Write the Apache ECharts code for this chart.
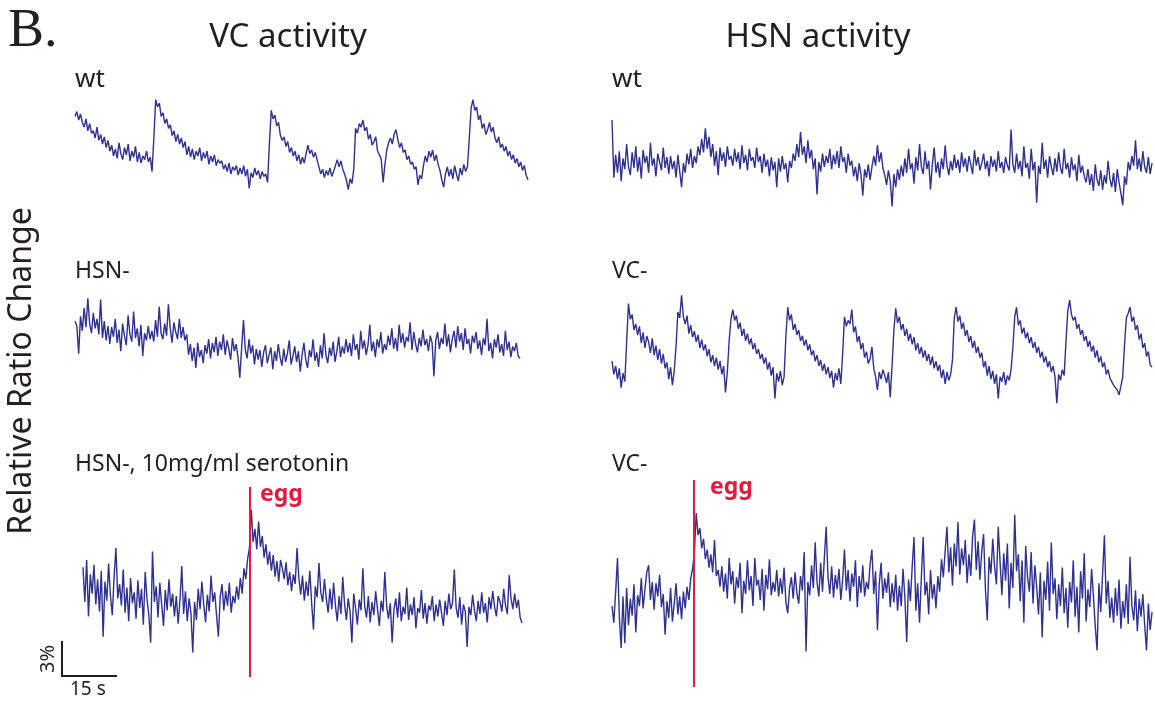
<!DOCTYPE html>
<html><head><meta charset="utf-8">
<script src="https://cdn.jsdelivr.net/npm/echarts@6/dist/echarts.min.js"></script>
<style>html,body{margin:0;padding:0;background:#fff}#c{width:1155px;height:702px}</style>
</head><body><div id="c"></div>
<script>
// sampling interval of every trace (seconds)
const dt = 0.5;
// Relative ratio change (%) – VC activity, wild type
const vcWt = [6.8,7.2,6.5,7.0,6.3,5.9,6.6,5.6,6.2,5.4,
5.6,5.0,5.9,4.8,5.3,4.5,5.1,4.2,4.8,3.9,
4.4,3.5,4.1,3.3,4.6,3.7,3.2,4.2,3.6,4.5,
3.1,3.9,3.4,4.3,3.0,3.8,2.9,3.5,3.2,3.9,
3.0,3.4,2.2,5.0,8.2,7.6,7.9,6.8,7.1,6.2,
6.6,5.8,6.1,5.2,5.6,4.7,5.3,4.5,5.0,4.2,
4.7,3.6,4.3,3.4,4.1,3.2,3.9,3.5,4.2,3.1,
3.8,3.3,3.9,2.8,3.5,3.0,3.6,2.7,3.2,2.9,
3.1,2.4,2.8,2.2,2.9,2.0,2.6,2.3,2.7,1.9,
2.5,2.0,2.7,1.8,2.4,0.8,2.1,1.7,2.5,1.9,
2.3,1.6,2.2,1.8,2.0,1.3,4.5,7.3,6.6,6.9,
6.0,6.3,5.2,4.8,5.1,4.3,4.7,3.8,4.2,3.5,
3.9,3.1,3.6,2.8,3.4,2.9,3.7,4.4,3.7,4.0,3.4,3.8,3.2,
2.6,2.0,2.4,1.7,2.3,1.9,2.5,1.8,2.2,
2.7,3.2,2.6,3.1,2.4,2.0,1.5,0.7,1.6,1.2,2.4,
5.8,5.4,6.2,5.9,6.5,5.6,5.9,
4.9,5.3,4.4,4.7,5.1,3.9,3.6,3.2,
1.3,2.8,4.0,4.6,5.0,4.5,5.3,5.7,4.9,
4.2,4.6,3.8,4.0,3.2,3.5,2.8,3.0,2.4,2.6,1.1,1.9,1.6,
2.7,3.5,3.0,3.9,3.4,4.0,3.1,3.6,2.8,
2.3,1.5,0.9,2.0,2.6,1.8,2.4,1.6,2.7,2.0,1.4,2.5,1.9,2.8,2.2,
2.6,5.0,7.5,8.2,7.3,7.6,
6.5,6.9,5.8,6.2,5.3,5.7,6.3,5.5,5.9,
5.0,4.6,5.1,4.2,4.5,3.9,4.3,3.5,3.9,3.2,3.6,2.9,3.3,2.6,3.0,2.3,2.7,1.9,1.5];
// HSN activity, wild type
const hsnWt = [8.0,3.2,5.1,3.6,5.4,2.9,4.8,3.9,6.0,4.1,
3.4,5.3,4.0,5.8,3.7,4.9,3.1,5.5,4.4,5.0,
3.6,6.1,4.2,4.8,3.3,5.2,4.5,3.8,5.7,4.0,
4.9,3.5,5.0,3.9,4.6,3.2,5.1,3.7,2.4,4.4,
3.6,5.2,4.3,5.6,4.0,5.0,4.4,5.8,5.1,6.4,
5.3,7.3,5.6,6.6,4.9,6.0,4.2,5.4,3.4,5.7,
4.6,5.3,4.1,5.8,4.7,5.0,4.2,5.6,4.5,5.3,
3.9,5.9,4.4,5.1,3.8,5.6,4.6,4.9,4.0,5.7,
4.5,5.0,3.6,5.2,4.1,4.7,3.3,4.9,3.8,4.5,
2.4,4.8,3.7,5.0,3.9,4.4,2.8,4.6,4.0,5.2,
4.6,6.0,4.9,7.0,5.1,5.8,4.4,6.3,4.8,5.5,
3.9,4.8,1.8,4.5,3.7,5.2,4.1,5.0,4.4,5.6,
3.9,5.1,4.3,5.4,4.0,5.8,4.5,4.9,3.6,5.2,
4.2,4.6,3.3,4.1,2.9,4.4,3.5,1.7,3.9,3.2,
4.3,3.0,4.1,5.0,4.2,5.9,4.5,5.3,4.0,3.4,
2.6,3.8,2.9,0.8,3.5,2.4,3.9,3.0,4.2,3.3,
4.8,3.6,5.6,3.9,4.4,2.7,4.9,3.8,6.0,4.1,
3.5,5.4,3.9,4.6,2.2,4.3,5.7,3.6,4.5,3.2,
4.8,3.9,5.9,4.2,3.4,4.6,3.8,5.1,4.0,4.7,
3.6,5.3,4.1,4.8,3.7,5.0,4.3,3.5,5.5,4.2,
4.9,3.8,4.4,5.2,3.9,4.6,3.3,5.0,4.1,4.7,
3.7,5.4,4.0,4.5,3.6,4.9,4.2,3.8,7.2,4.3,
3.6,5.2,3.9,4.6,3.3,5.8,4.0,4.4,3.1,5.6,
3.8,4.5,1.1,4.2,3.5,6.1,3.9,4.7,3.2,5.0,
4.1,3.4,4.8,3.7,5.3,4.0,3.5,5.6,3.9,4.4,
3.2,4.9,3.8,4.3,2.9,5.1,3.6,4.2,3.3,2.8,
3.9,2.6,3.5,2.1,4.3,3.0,2.5,3.8,2.2,3.4,
2.7,4.6,3.1,2.4,3.6,2.0,3.9,2.8,1.9,0.9,
3.3,2.6,4.5,3.8,5.0,4.2,6.3,3.9,4.8,3.7,
5.4,4.1,3.6,4.9,3.5,4.4];
// VC activity, HSN-
const vcHsnMinus = [5.4,5.0,2.7,5.8,4.6,6.5,4.9,7.3,5.2,4.4,
6.1,4.8,5.6,4.3,7.2,4.0,5.4,3.8,5.0,3.5,
4.9,4.1,5.6,3.6,4.7,2.9,5.2,4.2,3.4,5.9,
4.3,3.7,6.2,4.0,4.8,3.3,5.1,2.5,4.4,3.8,
5.0,3.9,4.6,3.7,5.5,4.1,6.6,4.4,3.9,5.2,
4.2,6.8,4.8,3.6,5.3,4.5,3.9,5.6,4.0,4.9,
3.8,4.3,2.6,3.5,2.1,3.2,1.5,3.6,2.4,3.0,
1.9,3.4,2.7,3.9,2.3,3.6,2.8,4.1,2.5,3.7,
3.0,4.3,2.6,3.8,3.1,2.2,4.0,2.9,3.5,2.4,
0.7,3.2,5.5,3.0,2.3,3.9,2.7,3.4,1.8,3.1,
2.2,3.0,1.6,2.8,3.4,1.9,2.6,3.2,1.4,2.9,
2.1,3.5,2.4,1.7,3.1,2.0,2.7,3.8,1.8,2.5,
3.3,2.0,2.9,1.2,2.6,3.6,2.2,1.5,3.0,2.4,
3.9,2.1,2.8,1.6,3.4,2.3,4.4,2.6,1.9,3.2,
2.5,3.7,2.0,2.9,4.1,2.4,3.3,2.7,3.9,2.8,
3.6,2.5,4.3,3.0,3.5,2.2,4.6,3.1,3.8,2.6,
3.4,5.1,2.9,3.7,2.4,3.9,3.2,4.5,2.7,3.5,
3.0,4.2,3.4,4.8,3.1,4.0,2.9,5.1,3.6,4.4,
3.2,4.1,3.7,5.3,3.0,4.5,3.5,2.8,4.0,3.3,
4.7,3.4,3.9,2.9,4.2,3.6,0.8,3.8,4.5,3.1,
4.0,3.5,5.2,3.3,4.3,2.8,3.9,4.6,3.2,5.0,
3.7,4.4,3.0,4.8,3.5,3.9,2.7,4.2,3.6,4.5,
3.1,3.8,2.6,4.0,3.4,5.6,2.9,3.6,2.3,3.9,
3.2,4.3,2.8,3.5,2.5,4.6,3.0,3.7,2.4,3.3,
2.9,3.6,2.5,2.3];
// HSN activity, VC-
const hsnVcMinus = [3.9,2.8,3.5,2.4,3.3,1.7,2.9,2.2,5.5,8.7,
7.4,7.8,6.5,7.0,6.1,6.8,5.4,6.3,5.0,6.0,
5.5,4.6,5.8,4.4,5.2,4.0,4.9,3.7,4.5,3.3,
3.8,2.4,3.4,1.9,3.1,5.2,8.0,7.5,9.4,7.6,
7.0,7.7,6.2,6.9,5.9,6.4,5.5,6.1,5.0,5.7,
4.8,5.3,4.3,4.9,3.8,4.4,3.5,4.2,3.2,3.9,
2.8,3.5,1.3,3.0,5.6,7.4,8.2,7.3,7.7,6.6,
7.1,6.0,6.6,5.6,6.2,5.3,5.8,4.9,5.4,4.5,
4.9,4.1,4.5,3.7,4.2,3.2,3.8,2.7,3.4,0.8,
2.9,2.2,3.1,1.9,2.6,6.0,8.4,7.3,7.8,6.5,
7.0,6.1,6.5,5.6,6.0,5.2,5.7,4.8,5.3,4.4,
4.8,3.9,4.4,3.5,4.0,3.1,3.7,2.8,3.4,2.5,
3.1,1.7,2.9,2.3,3.3,2.0,4.5,7.6,6.8,7.3,
7.0,8.2,6.3,6.8,5.5,6.0,4.9,5.4,4.2,4.7,
3.7,4.1,5.1,3.3,2.6,1.5,3.0,2.4,3.2,2.7,
2.1,3.0,0.9,3.5,6.5,8.3,7.1,7.6,6.5,7.0,
6.0,6.6,5.6,6.2,5.3,5.9,4.8,5.4,4.5,5.1,
4.2,4.8,3.9,4.5,3.6,4.3,3.3,3.9,3.1,3.6,
2.5,3.2,2.0,3.0,2.3,2.8,4.0,7.5,8.4,7.2,
7.7,6.6,7.1,6.0,6.5,5.5,6.0,5.0,5.6,4.6,
5.1,4.2,4.6,3.4,3.9,2.7,3.5,2.4,3.1,2.0,
2.8,0.8,2.6,2.2,3.0,1.9,2.7,2.3,3.2,5.0,
7.6,8.4,6.9,7.3,6.2,6.7,5.8,6.3,5.4,5.9,
5.0,5.5,4.6,5.1,4.2,4.7,3.8,4.3,3.4,3.9,
3.0,3.5,2.6,0.4,2.8,2.3,3.2,2.7,5.5,8.1,
9.0,7.8,7.3,7.6,6.6,7.0,6.1,6.5,5.6,6.0,
5.1,5.6,4.7,5.2,4.2,4.8,3.8,4.3,3.4,3.8,
2.8,3.2,2.5,2.2,1.9,1.7,1.5,1.1,1.8,2.6,
5.3,7.5,7.9,8.4,7.2,7.6,6.5,6.9,5.7,6.2,
5.0,5.4,4.3,4.7,3.6,3.4];
// VC activity, HSN-, 10 mg/ml serotonin
const vcSerotonin = [8.4,5.5,9.0,4.3,7.8,6.2,8.6,5.3,7.4,4.7,
8.1,2.6,7.2,5.6,8.7,6.0,4.4,7.6,10.0,5.8,
7.0,5.2,8.2,4.6,6.7,3.9,7.5,5.4,6.3,4.1,
7.3,5.0,6.6,3.6,8.0,5.7,4.4,2.1,9.7,5.5,
6.8,4.2,7.1,5.3,3.5,6.5,4.8,7.4,5.1,6.2,
4.3,6.0,3.7,5.6,8.5,4.5,6.4,3.9,5.8,4.6,
1.3,5.5,4.0,6.6,4.9,7.2,5.3,3.8,6.1,4.7,
7.7,5.5,6.3,4.4,2.6,5.9,7.0,4.8,6.4,5.2,
7.1,4.6,6.0,5.4,6.8,5.7,7.5,6.2,8.3,7.4,
9.1,10.0,13.2,10.5,11.6,9.9,12.2,10.1,11.0,9.2,
10.3,8.6,9.7,8.1,9.4,7.6,8.9,7.2,9.0,8.3,
7.4,8.8,6.9,8.0,6.4,7.8,7.0,10.0,7.5,6.1,
7.7,5.6,7.2,6.0,8.1,5.4,3.2,6.8,5.9,8.75,
6.3,5.5,7.4,5.8,4.6,6.6,4.9,7.1,5.2,3.9,
6.0,4.5,7.6,5.3,4.0,5.8,4.7,2.1,6.2,5.0,
3.6,5.7,4.8,8.3,5.1,4.2,6.0,3.8,5.5,4.4,
6.4,4.9,3.5,5.6,4.7,8.0,5.2,4.1,5.4,2.1,
4.9,5.8,4.2,6.3,3.9,5.1,4.5,6.7,4.0,5.3,
4.4,5.9,3.3,5.0,4.6,6.5,4.1,5.4,3.7,5.2,
4.8,6.0,3.9,5.3,4.3,5.7,4.6,3.5,5.6,4.4,
6.2,4.9,5.4,8.2,5.0,4.2,5.9,3.6,5.3,4.7,
1.75,5.1,4.4,6.1,4.8,3.9,5.6,4.5,6.3,4.6,
5.4,3.8,5.9,4.9,6.4,5.1,4.3,6.0,5.5,4.7,
6.6,5.2,4.5,7.75,5.8,4.9,6.2,5.0,5.7,4.2,
3.75];
// HSN activity, VC-
const hsnVcMinus2 = [5.0,3.6,6.2,9.0,4.1,1.5,5.8,1.9,6.5,3.4,
5.6,4.2,6.8,2.8,5.9,5.0,7.3,4.8,6.4,7.8,
8.4,5.5,7.0,4.7,6.9,5.8,7.6,4.9,6.0,2.6,
5.4,4.0,6.5,3.7,5.2,6.9,4.3,5.8,3.9,6.2,
4.8,6.6,5.5,7.3,8.1,9.4,12.75,10.9,11.5,9.8,
10.6,8.9,9.7,8.2,9.3,7.8,10.5,7.5,8.0,6.6,
8.3,6.2,7.7,5.6,9.0,6.8,7.9,5.2,7.4,6.5,
8.6,4.4,7.1,6.0,8.8,6.3,7.5,5.0,9.0,6.7,
7.2,5.5,8.1,4.6,7.6,6.4,8.9,5.9,7.0,6.2,
8.0,5.8,7.3,6.0,8.2,5.3,4.4,6.5,7.4,5.6,
7.8,6.1,5.2,7.5,6.3,9.5,1.2,7.0,5.9,8.4,
6.5,10.3,7.0,5.8,8.6,6.2,9.0,11.6,7.4,6.0,
8.3,5.7,7.6,6.4,8.1,5.5,7.2,9.7,6.3,8.0,
5.4,7.7,6.6,8.8,4.9,7.5,6.1,8.4,5.8,7.0,
6.4,8.5,9.7,6.0,7.9,3.0,6.8,8.6,5.6,7.3,
6.1,7.8,4.9,6.9,5.3,7.6,4.6,6.7,5.0,8.1,
5.7,2.0,7.2,5.4,8.3,10.75,4.6,6.9,3.6,7.4,
10.75,5.9,7.0,4.3,8.0,5.6,6.8,4.8,7.5,6.2,
8.9,7.4,9.6,11.6,7.8,9.9,6.7,10.2,8.3,12.0,
7.6,9.8,8.4,10.5,6.9,9.3,7.5,10.8,12.2,8.0,
10.4,7.2,9.6,11.0,6.4,3.8,9.1,7.7,10.6,8.3,
6.8,11.6,8.7,5.9,9.4,7.1,10.2,4.8,8.6,6.5,
12.6,7.9,9.3,5.4,8.8,3.6,10.0,7.4,6.2,9.5,
5.2,8.4,6.6,4.3,7.8,2.4,7.1,5.5,8.7,4.6,
10.3,6.0,7.3,3.9,6.8,5.0,8.2,4.4,6.5,3.2,
7.0,5.3,8.8,4.1,6.6,2.8,7.9,5.6,9.4,3.7,
6.4,4.9,8.1,5.8,3.3,1.3,6.9,4.5,7.6,10.9,
5.2,7.1,4.0,5.7,3.6,6.5,4.2,7.2,3.1,5.4,
4.0,6.8,3.5,9.1,5.0,3.8,6.3,2.9,5.6,4.1,
6.0,3.4,1.3,5.2,3.0,4.5];
// egg-laying event times (s)
const eggTimeVC = 45.6;
const eggTimeHSN = 22.4;
const panelLabels = ['wt','wt','HSN-','VC-','HSN-, 10mg/ml serotonin','VC-'];
const columnTitles = ['VC activity','HSN activity'];
const scaleBar = {seconds: 15, percent: 3};

const traceColor = '#2e3192';
const eggColor = '#e8193c';
const font = 'Noto Sans, Open Sans, sans-serif';

const panels = [
  {data: vcWt,        left: 75,  top: 90,  width: 453, height: 108, ymin: 0,     ymax: 9},
  {data: hsnWt,       left: 612, top: 120, width: 540, height: 96,  ymin: 0,     ymax: 8},
  {data: vcHsnMinus,  left: 75,  top: 290, width: 445, height: 96,  ymin: 0,     ymax: 8},
  {data: hsnVcMinus,  left: 612, top: 288, width: 540, height: 120, ymin: 0,     ymax: 10},
  {data: vcSerotonin, left: 83,  top: 487, width: 439, height: 190, ymin: -0.75, ymax: 15.08, egg: eggTimeVC},
  {data: hsnVcMinus2, left: 612, top: 480, width: 540, height: 207, ymin: -1.75, ymax: 15.5, egg: eggTimeHSN}
];

const grid = [], xAxis = [], yAxis = [], series = [];
panels.forEach((p, k) => {
  grid.push({left: p.left, top: p.top, width: p.width, height: p.height});
  xAxis.push({type: 'value', gridIndex: k, min: 0, max: (p.data.length - 1) * dt, show: false});
  yAxis.push({type: 'value', gridIndex: k, min: p.ymin, max: p.ymax, show: false});
  const s = {
    type: 'line', xAxisIndex: k, yAxisIndex: k,
    data: p.data.map((v, i) => [i * dt, v]),
    showSymbol: false, symbol: 'none',
    lineStyle: {color: traceColor, width: 1.4},
    silent: true
  };
  if (p.egg !== undefined) {
    s.markLine = {
      silent: true, symbol: ['none', 'none'],
      label: {show: false},
      lineStyle: {color: eggColor, width: 2, type: 'solid'},
      data: [{xAxis: p.egg}]
    };
  }
  series.push(s);
});

function txt(x, y, text, size, opts) {
  opts = opts || {};
  return {
    type: 'text', x: x, y: y, rotation: opts.rotation || 0, silent: true,
    style: {
      text: text, fontSize: size, fontFamily: opts.family || font,
      fontWeight: opts.weight || 'normal', fill: opts.color || '#231f20',
      align: opts.align || 'left', verticalAlign: 'middle',
      textAlign: opts.align || 'left', textVerticalAlign: 'middle'
    }
  };
}

const graphic = [
  txt(8, 32, 'B.', 54, {family: 'Liberation Serif, Times New Roman, serif'}),
  txt(288, 38, columnTitles[0], 33, {align: 'center'}),
  txt(818, 38, columnTitles[1], 33, {align: 'center'}),
  txt(75, 80, panelLabels[0], 26),
  txt(612, 80, panelLabels[1], 26),
  txt(75, 271, panelLabels[2], 23),
  txt(612, 271, panelLabels[3], 23),
  txt(75, 464, panelLabels[4], 23),
  txt(612, 464, panelLabels[5], 23),
  txt(22, 371, 'Relative Ratio Change', 32, {align: 'center', rotation: Math.PI / 2}),
  txt(260, 494, 'egg', 23, {color: eggColor, weight: 'bold'}),
  txt(710, 487, 'egg', 23, {color: eggColor, weight: 'bold'}),
  {type: 'polyline', silent: true, shape: {points: [[62, 641], [62, 676], [117, 676]]},
   style: {stroke: '#231f20', lineWidth: 2, fill: null}},
  txt(48, 659, scaleBar.percent + '%', 20, {align: 'center', rotation: Math.PI / 2}),
  txt(70, 690, scaleBar.seconds + ' s', 19)
];

const chart = echarts.init(document.getElementById('c'), null, {renderer: 'canvas'});
chart.setOption({animation: false, backgroundColor: '#fff', grid, xAxis, yAxis, series, graphic});
</script></body></html>
